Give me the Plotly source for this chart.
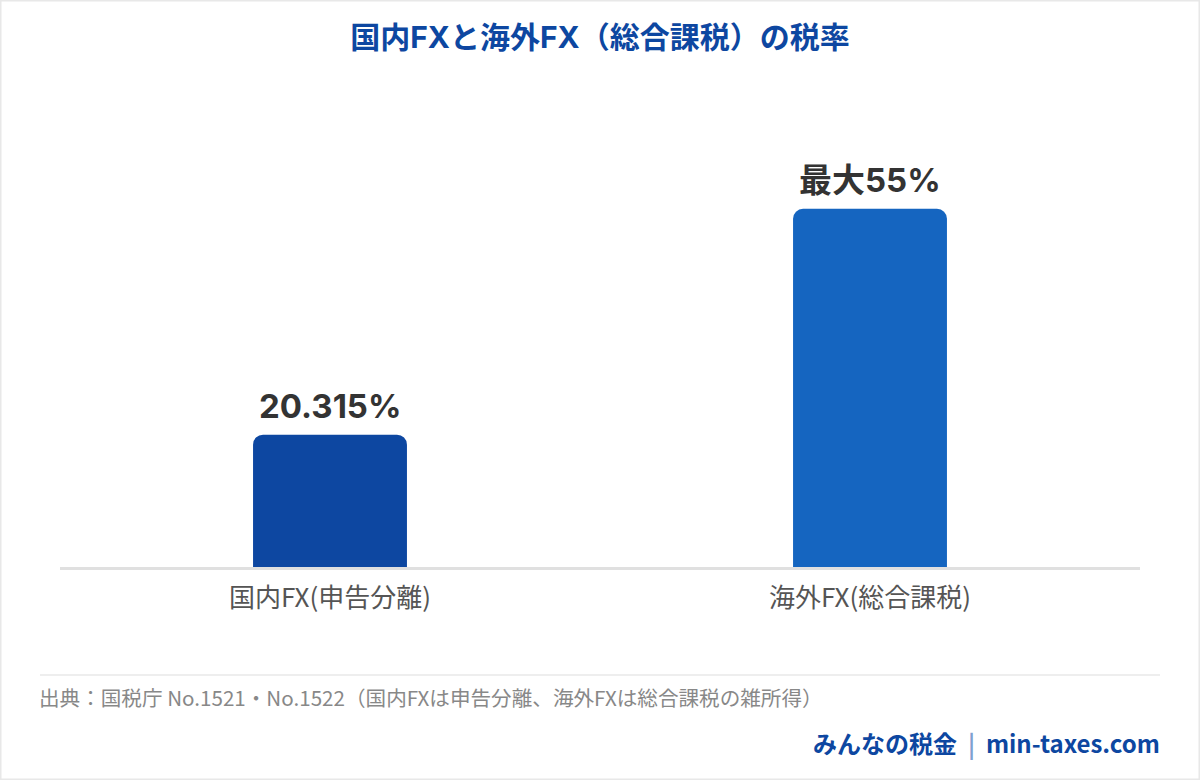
import plotly.graph_objects as go

# données
categories = ["国内FX(申告分離)", "海外FX(総合課税)"]
taux = [20.315, 55]
etiquettes = ["20.315%", "最大55%"]
couleurs = ["#0d47a1", "#1565c0"]

titre = "国内FXと海外FX（総合課税）の税率"
source = "出典：国税庁 No.1521・No.1522（国内FXは申告分離、海外FXは総合課税の雑所得）"
marque_site = "みんなの税金"
marque_url = "min-taxes.com"

police = "Noto Sans CJK JP, Roboto, sans-serif"
police_gras = "Inter, Noto Sans CJK JP, sans-serif"

fig = go.Figure()
fig.add_trace(
    go.Bar(
        x=categories,
        y=taux,
        marker=dict(color=couleurs, cornerradius=10, line=dict(width=0)),
        width=0.285,
        hoverinfo="skip",
    )
)

# étiquettes de valeur au-dessus des barres
for cat, val, lab in zip(categories, taux, etiquettes):
    fig.add_annotation(x=cat, y=val, text="<b>" + lab + "</b>", showarrow=False,
                       yanchor="bottom", yshift=7,
                       font=dict(size=33, color="#333333", family=police_gras))

fig.update_layout(
    width=1200,
    height=780,
    margin=dict(l=60, r=60, t=111, b=213),
    paper_bgcolor="white",
    plot_bgcolor="white",
    showlegend=False,
    font=dict(family=police),
    title=dict(
        text="<b>" + titre + "</b>",
        x=0.5,
        xanchor="center",
        y=1 - 37 / 780,
        yanchor="middle",
        font=dict(size=30, color="#0d47a1", family=police_gras),
    ),
)

fig.update_xaxes(
    showline=True,
    linecolor="#e0e0e0",
    linewidth=3,
    ticks="",
    showgrid=False,
    tickfont=dict(size=26, color="#555555", family=police),
    ticklabelstandoff=6,
)
fig.update_yaxes(range=[0, 70], visible=False, showgrid=False)

# ligne de séparation du pied + cadre
fig.add_shape(type="line", xref="paper", yref="paper",
              x0=-20 / 1080, x1=1100 / 1080, y0=-(675 - 567) / 456, y1=-(675 - 567) / 456,
              line=dict(color="#eeeeee", width=2))
fig.add_shape(type="rect", xref="paper", yref="paper",
              x0=-60 / 1080, x1=1140 / 1080, y0=-213 / 456, y1=567 / 456,
              line=dict(color="#e8e8e8", width=3))

fig.add_annotation(text=source, xref="paper", yref="paper",
                   x=-23 / 1080, y=-(697 - 567) / 456, xanchor="left", yanchor="middle",
                   showarrow=False, font=dict(size=20.6, color="#888888", family=police))
fig.add_annotation(
    text=marque_site + '  <span style="color:#7fa0d0">|</span>  ' + marque_url,
    xref="paper", yref="paper",
    x=1102 / 1080, y=-(742 - 567) / 456, xanchor="right", yanchor="middle",
    showarrow=False, font=dict(size=24, color="#0d47a1", family=police, weight=600))

fig.write_html("out.html", config={"displayModeBar": False},
               post_script="document.body.style.margin='0';")
